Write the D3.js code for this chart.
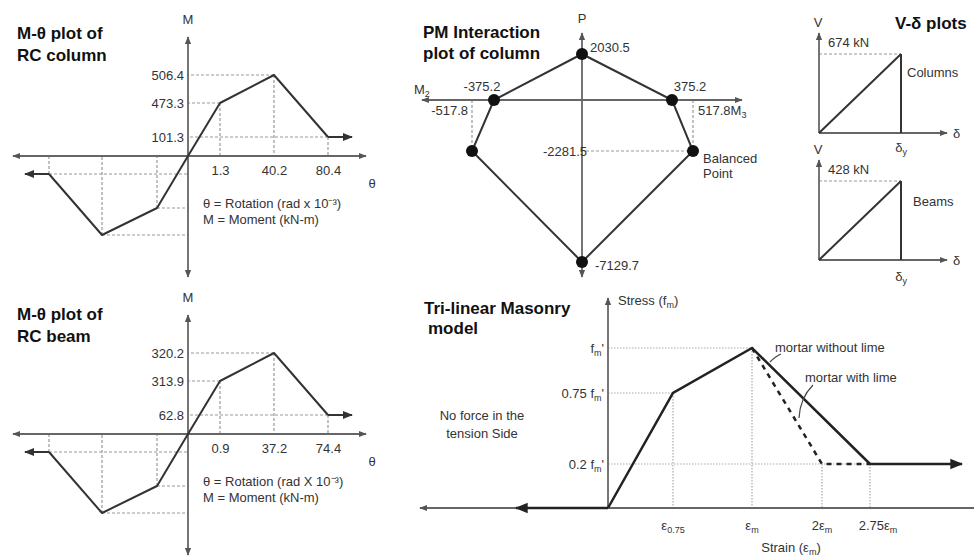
<!DOCTYPE html>
<html lang="en">
<head>
<meta charset="UTF-8">
<script src="https://d3js.org/d3.v7.min.js"></script>
<title>RC frame and masonry models</title>
<style>
  body { margin: 0; background: #fff; }
  text { font-family: "Liberation Sans", Arial, sans-serif; fill: #333; }
  .title { font-weight: bold; font-size: 17px; fill: #111; }
  .lbl { font-size: 13px; }
</style>
</head>
<body>
<div id="chart"></div>
<script>
// M-theta of RC column (theta in rad x 10^-3, M in kN-m)
const colTheta = [-80.4, -40.2, -1.3, 0, 1.3, 40.2, 80.4];
const colMoment = [-101.3, -506.4, -473.3, 0, 473.3, 506.4, 101.3];
// M-theta of RC beam
const beamTheta = [-74.4, -37.2, -0.9, 0, 0.9, 37.2, 74.4];
const beamMoment = [-62.8, -320.2, -313.9, 0, 313.9, 320.2, 62.8];
// PM interaction polygon (M, P)
const pmM = [0, 375.2, 517.8, 0, -517.8, -375.2];
const pmP = [2030.5, 0, -2281.5, -7129.7, -2281.5, 0];
// V-delta plots
const vdCases = ["Columns", "Beams"];
const vdShear = [674, 428];
// tri-linear masonry: strain in eps_m, stress in f'm
const masStrain = [0, 0.45, 1, 2.75];
const masStress = [0, 0.75, 1, 0.2];
const limeStrain = [1, 2, 2.75];
const limeStress = [1, 0.2, 0.2];
const masXTickVals = [0.45, 1, 2, 2.75];
const masXTickMain = ["ε", "ε", "2ε", "2.75ε"];
const masXTickSub = ["0.75", "m", "m", "m"];
const masYTickVals = [1, 0.75, 0.2];
const masYTickMain = ["f", "0.75 f", "0.2 f"];

const W = 974, H = 558;
const svg = d3.select("#chart").append("svg").attr("width", W).attr("height", H);
const defs = svg.append("defs");

function marker(id, color, size) {
  defs.append("marker").attr("id", id)
    .attr("viewBox", "0 0 10 10").attr("refX", 9).attr("refY", 5)
    .attr("markerWidth", size).attr("markerHeight", size)
    .attr("markerUnits", "userSpaceOnUse").attr("orient", "auto-start-reverse")
    .append("path").attr("d", "M0,1 L10,5 L0,9 Z").attr("fill", color);
}
marker("axArrow", "#555", 8);
marker("cvArrow", "#333", 10);
marker("bigArrow", "#222", 13);

const axisCol = "#666", curveCol = "#333", guideCol = "#999";

function line(g, x1, y1, x2, y2, color, w, dash) {
  return g.append("line").attr("x1", x1).attr("y1", y1).attr("x2", x2).attr("y2", y2)
    .attr("stroke", color).attr("stroke-width", w).attr("stroke-dasharray", dash || null);
}
function txt(g, x, y, s, anchor, cls) {
  return g.append("text").attr("x", x).attr("y", y).attr("dy", "0.35em")
    .attr("text-anchor", anchor || "start").attr("class", cls || "lbl").text(s);
}
// text with a subscript part and optional tail
function subTxt(g, x, y, main, sub, tail, anchor) {
  const t = g.append("text").attr("x", x).attr("y", y).attr("dy", "0.35em")
    .attr("text-anchor", anchor || "start").attr("class", "lbl");
  t.append("tspan").text(main);
  t.append("tspan").attr("dy", 3).attr("font-size", 9).text(sub);
  if (tail) t.append("tspan").attr("dy", -3).text(tail);
  return t;
}

// ---------- M-theta panels ----------
function mTheta(theta, moment, oy, title, rotText, titleY) {
  const g = svg.append("g");
  const x = d3.scaleLinear().domain(theta).range([49, 102, 157, 188, 220, 274, 328]);
  const mDom = moment.slice().sort((a, b) => a - b);
  const y = d3.scaleLinear().domain(mDom)
    .range([oy + 79, oy + 52, oy + 18, oy, oy - 19, oy - 53, oy - 81]);
  const ox = x(0);

  // guides
  theta.forEach((t, i) => {
    if (t === 0) return;
    line(g, x(t), y(moment[i]), x(t), oy, guideCol, 1.2, "3,2");
    line(g, x(t), y(moment[i]), ox, y(moment[i]), guideCol, 1.2, "3,2");
  });

  // axes
  line(g, 13, oy, 366, oy, axisCol, 1.8).attr("marker-start", "url(#axArrow)").attr("marker-end", "url(#axArrow)");
  line(g, ox, oy - 119, ox, oy + 121, axisCol, 1.8).attr("marker-start", "url(#axArrow)").attr("marker-end", "url(#axArrow)");

  const pos = theta.filter(t => t > 0);
  const ax = g.append("g").attr("transform", "translate(0," + oy + ")")
    .call(d3.axisBottom(x).tickValues(pos).tickSize(0).tickPadding(10).tickFormat(d => d));
  ax.select(".domain").remove();
  const ay = g.append("g").attr("transform", "translate(" + ox + ",0)")
    .call(d3.axisLeft(y).tickValues(moment.filter(m => m > 0)).tickSize(0).tickPadding(4).tickFormat(d => d));
  ay.select(".domain").remove();
  g.selectAll(".tick text").attr("font-size", 13).attr("fill", "#333")
    .attr("font-family", "Liberation Sans, Arial, sans-serif");

  // curve
  const pts = theta.map((t, i) => [x(t), y(moment[i])]);
  g.append("path").attr("d", d3.line()(pts)).attr("fill", "none")
    .attr("stroke", curveCol).attr("stroke-width", 2).attr("stroke-linejoin", "round");
  const first = pts[0], last = pts[pts.length - 1];
  line(g, first[0], first[1], first[0] - 24, first[1], curveCol, 2).attr("marker-end", "url(#cvArrow)");
  line(g, last[0], last[1], last[0] + 24, last[1], curveCol, 2).attr("marker-end", "url(#cvArrow)");

  txt(g, ox, oy - 137, "M", "middle");
  txt(g, 372, oy + 27, "θ", "middle");
  txt(g, 203, oy + 47, rotText);
  txt(g, 203, oy + 63, "M = Moment (kN-m)");
  txt(g, 17, titleY, "M-θ plot of", "start", "title");
  txt(g, 17, titleY + 22, title, "start", "title");
}
mTheta(colTheta, colMoment, 156, "RC column", "θ = Rotation (rad x 10⁻³)", 33);
mTheta(beamTheta, beamMoment, 434, "RC beam", "θ = Rotation (rad X 10⁻³)", 314);

// ---------- PM interaction ----------
(function () {
  const g = svg.append("g");
  const px = d3.scaleLinear().domain(Array.from(new Set(pmM)).sort((a, b) => a - b))
    .range([472, 494, 582, 672, 693]);
  const py = d3.scaleLinear().domain(Array.from(new Set(pmP)).sort((a, b) => a - b))
    .range([262, 151, 100, 54]);
  const ox = px(0), oy = py(0);

  // guides to balanced points
  const bal = pmP.indexOf(-2281.5);
  line(g, px(pmM[bal]), oy, px(pmM[bal]), py(pmP[bal]), guideCol, 1.2, "3,2");
  line(g, px(-pmM[bal]), oy, px(-pmM[bal]), py(pmP[bal]), guideCol, 1.2, "3,2");
  line(g, ox + 4, py(pmP[bal]), px(pmM[bal]), py(pmP[bal]), guideCol, 1.2, "3,2");

  line(g, 422, oy, 742, oy, axisCol, 1.8).attr("marker-start", "url(#axArrow)").attr("marker-end", "url(#axArrow)");
  line(g, ox, 33, ox, 277, axisCol, 1.8).attr("marker-start", "url(#axArrow)").attr("marker-end", "url(#axArrow)");

  const pts = pmM.map((m, i) => [px(m), py(pmP[i])]);
  g.append("path").attr("d", d3.line()(pts) + "Z").attr("fill", "none")
    .attr("stroke", curveCol).attr("stroke-width", 2);
  g.selectAll("circle").data(pts).join("circle")
    .attr("cx", d => d[0]).attr("cy", d => d[1]).attr("r", 6).attr("fill", "#111");

  txt(g, ox, 18, "P", "middle");
  txt(g, ox + 8, py(2030.5) - 7, "2030.5");
  txt(g, px(-375.2) - 12, oy - 14, "-375.2", "middle");
  txt(g, px(375.2) + 18, oy - 14, "375.2", "middle");
  txt(g, px(-517.8) - 4, oy + 10, "-517.8", "end");
  subTxt(g, px(517.8) + 5, oy + 10, "517.8M", "3");
  subTxt(g, 414, oy - 11, "M", "2");
  txt(g, ox + 5, py(-2281.5), "-2281.5", "end");
  txt(g, ox + 13, py(-7129.7) + 3, "-7129.7");
  txt(g, px(517.8) + 10, py(-2281.5) + 7, "Balanced");
  txt(g, px(517.8) + 10, py(-2281.5) + 22, "Point");
  txt(g, 423, 32, "PM Interaction", "start", "title");
  txt(g, 423, 53, "plot of column", "start", "title");
})();

// ---------- V-delta plots ----------
vdCases.forEach((name, i) => {
  const g = svg.append("g");
  const oy = [133, 260][i];
  const x = d3.scaleLinear().domain([0, 1]).range([819, 901]);
  const y = d3.scaleLinear().domain([0, vdShear[i]]).range([oy, oy - 79]);
  line(g, x(0), y(vdShear[i]), x(1), y(vdShear[i]), guideCol, 1.2, "3,2");
  line(g, x(0), oy, 947, oy, axisCol, 1.8).attr("marker-end", "url(#axArrow)");
  line(g, x(0), oy, x(0), oy - 100, axisCol, 1.8).attr("marker-end", "url(#axArrow)");
  line(g, x(0), y(0), x(1), y(vdShear[i]), curveCol, 2);
  line(g, x(1), y(vdShear[i]), x(1), oy, curveCol, 2);
  txt(g, 818, oy - 111, "V", "middle");
  txt(g, 828, y(vdShear[i]) - 12, vdShear[i] + " kN");
  txt(g, 907 + i * 6, oy - 61 + i * 2, name);
  txt(g, 953, oy, "δ");
  subTxt(g, x(1), oy + 14 + i * 2, "δ", "y", null, "middle");
});
txt(svg, 895, 23, "V-δ plots", "start", "title");

// ---------- Tri-linear masonry ----------
(function () {
  const g = svg.append("g");
  const x = d3.scaleLinear().domain([0, 0.45, 1, 2, 2.75]).range([608, 673, 752, 822, 870]);
  const y = d3.scaleLinear().domain([0, 0.2, 0.75, 1]).range([508, 464, 393, 348]);
  const ox = x(0), oy = y(0);
  const dot = "1.5,1.5", dotCol = "#aaa";

  masYTickVals.forEach(v => {
    const xe = v === 0.2 ? x(2.75) : x(masStrain[masStress.indexOf(v)]);
    line(g, ox, y(v), xe, y(v), dotCol, 1.2, dot);
  });
  masXTickVals.forEach(v => {
    const yv = v === 2 ? y(0.2) : y(masStress[masStrain.indexOf(v)]);
    line(g, x(v), yv, x(v), oy, dotCol, 1.2, dot);
  });

  line(g, 420, oy, W, oy, axisCol, 1.8).attr("marker-start", "url(#axArrow)");
  line(g, ox, oy, ox, 298, axisCol, 1.8).attr("marker-end", "url(#axArrow)");

  // no tension side
  line(g, ox, oy, 516, oy, "#222", 2.5).attr("marker-end", "url(#bigArrow)");
  const pts = masStrain.map((s, i) => [x(s), y(masStress[i])]);
  g.append("path").attr("d", d3.line()(pts)).attr("fill", "none")
    .attr("stroke", "#222").attr("stroke-width", 2.5);
  const last = pts[pts.length - 1];
  line(g, last[0], last[1], 962, last[1], "#222", 2.5).attr("marker-end", "url(#bigArrow)");
  const lime = limeStrain.map((s, i) => [x(s), y(limeStress[i])]);
  g.append("path").attr("d", d3.line()(lime)).attr("fill", "none")
    .attr("stroke", "#222").attr("stroke-width", 2.5).attr("stroke-dasharray", "5,5");

  masYTickVals.forEach((v, i) => subTxt(g, ox - 4, y(v), masYTickMain[i], "m", "'", "end"));
  masXTickVals.forEach((v, i) => subTxt(g, x(v) + (v === 2.75 ? 8 : 0), oy + 17, masXTickMain[i], masXTickSub[i], null, "middle"));

  const st = g.append("text").attr("x", ox + 10).attr("y", 300).attr("dy", "0.35em").attr("class", "lbl");
  st.append("tspan").text("Stress (f");
  st.append("tspan").attr("dy", 3).attr("font-size", 9).text("m");
  st.append("tspan").attr("dy", -3).text(")");
  const sn = g.append("text").attr("x", 791).attr("y", 547).attr("dy", "0.35em").attr("class", "lbl").attr("text-anchor", "middle");
  sn.append("tspan").text("Strain (ε");
  sn.append("tspan").attr("dy", 3).attr("font-size", 9).text("m");
  sn.append("tspan").attr("dy", -3).text(")");

  txt(g, 775, 347, "mortar without lime");
  txt(g, 805, 377, "mortar with lime");
  g.append("path").attr("d", "M781,354 Q776,356 770,362").attr("fill", "none").attr("stroke", "#444").attr("stroke-width", 1.2);
  g.append("path").attr("d", "M813,385 Q800,398 799,418").attr("fill", "none").attr("stroke", "#444").attr("stroke-width", 1.2);

  txt(g, 482, 415, "No force in the", "middle");
  txt(g, 482, 433, "tension Side", "middle");
  txt(g, 424, 308, "Tri-linear Masonry", "start", "title");
  txt(g, 428, 328, "model", "start", "title");
})();
</script>
</body>
</html>
